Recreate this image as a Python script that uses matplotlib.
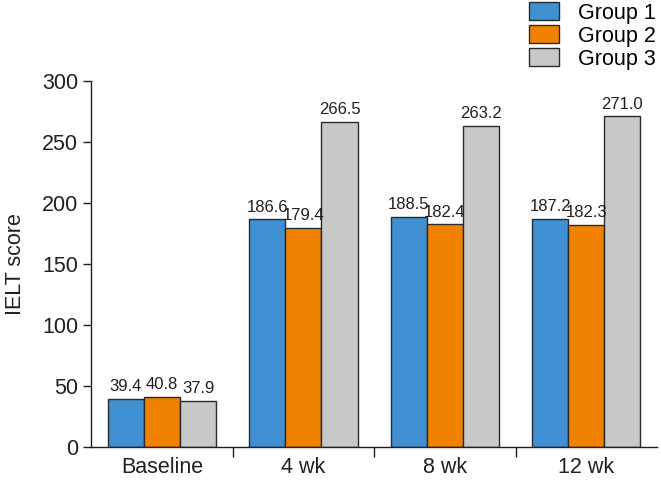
import numpy as np
import matplotlib.pyplot as plt
from matplotlib.ticker import FixedLocator

plt.rcParams['font.family'] = ['Liberation Sans', 'DejaVu Sans']

categories = ["Baseline", "4 wk", "8 wk", "12 wk"]
groups = ["Group 1", "Group 2", "Group 3"]
group1 = [39.4, 186.6, 188.5, 187.2]
group2 = [40.8, 179.4, 182.4, 182.3]
group3 = [37.9, 266.5, 263.2, 271.0]
colors = ["#3f8fd2", "#f08200", "#c8c8c8"]

fig = plt.figure(figsize=(6.61, 4.8), dpi=100)
ax = fig.add_axes([0.138, 0.069, 0.856, 0.762])

x = np.arange(len(categories))
w = 0.255
for i, (vals, c, lab) in enumerate(zip([group1, group2, group3], colors, groups)):
    pos = x + (i - 1) * w
    ax.bar(pos, vals, w, color=c, edgecolor="#2a2a2a", linewidth=1.0, label=lab)
    for p, v in zip(pos, vals):
        ax.text(p, v + 4, f"{v:.1f}", ha="center", va="bottom", fontsize=12, color="#231f20")

ax.set_xlim(-0.5, 3.5)
ax.set_ylim(0, 300)
ax.set_yticks(range(0, 301, 50))
ax.set_xticks(x)
ax.set_xticklabels(categories)
ax.xaxis.set_minor_locator(FixedLocator([0.5, 1.5, 2.5]))
ax.tick_params(axis="x", which="major", length=0, labelsize=15.5, pad=7, colors="#231f20")
ax.tick_params(axis="x", which="minor", length=7, direction="out", width=1, color="#231f20")
ax.tick_params(axis="y", length=6, width=1, labelsize=15.5, colors="#231f20")
ax.set_ylabel("IELT score", fontsize=15.5, color="#231f20", labelpad=11)
for s in ["top", "right"]:
    ax.spines[s].set_visible(False)
for s in ["left", "bottom"]:
    ax.spines[s].set_color("#231f20")
    ax.spines[s].set_linewidth(1)

leg = fig.legend(loc="upper right", bbox_to_anchor=(0.995, 1.0), frameon=False,
                 fontsize=15.5, handlelength=1.4, handleheight=0.9,
                 labelspacing=0.08, handletextpad=0.85, borderaxespad=0, borderpad=0.1)

fig.savefig("out.png", dpi=100)
